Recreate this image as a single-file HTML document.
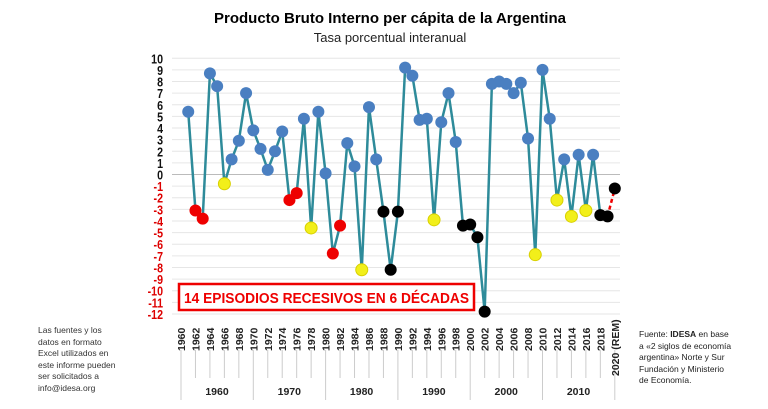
<!DOCTYPE html>
<html><head><meta charset="utf-8">
<style>
body{margin:0;background:#fff;width:768px;height:409px;overflow:hidden;font-family:"Liberation Sans",sans-serif;position:relative}
.t{position:absolute}
</style></head><body>
<div class="t" style="left:0;width:768px;top:10px;text-align:center;font-weight:bold;font-size:15px;color:#000;padding-left:12px;box-sizing:border-box">Producto Bruto Interno per cápita de la Argentina</div>
<div class="t" style="left:0;width:768px;top:30px;text-align:center;font-size:13px;color:#222;padding-left:12px;box-sizing:border-box">Tasa porcentual interanual</div>
<div class="t" style="left:38px;top:325px;font-size:8.5px;line-height:11.5px;color:#333">Las fuentes y los<br>datos en formato<br>Excel utilizados en<br>este informe pueden<br>ser solicitados a<br>info@idesa.org</div>
<div class="t" style="left:639px;top:329px;font-size:8.5px;line-height:11.5px;color:#222">Fuente: <b>IDESA</b> en base<br>a «2 siglos de economía<br>argentina» Norte y Sur<br>Fundación y Ministerio<br>de Economía.</div>
<svg id="c" width="768" height="409" style="position:absolute;left:0;top:0"></svg>
<script>
const years=[1961,1962,1963,1964,1965,1966,1967,1968,1969,1970,1971,1972,1973,1974,1975,1976,1977,1978,1979,1980,1981,1982,1983,1984,1985,1986,1987,1988,1989,1990,1991,1992,1993,1994,1995,1996,1997,1998,1999,2000,2001,2002,2003,2004,2005,2006,2007,2008,2009,2010,2011,2012,2013,2014,2015,2016,2017,2018,2019,2020];
const values=[5.4,-3.1,-3.8,8.7,7.6,-0.8,1.3,2.9,7.0,3.8,2.2,0.4,2.0,3.7,-2.2,-1.6,4.8,-4.6,5.4,0.1,-6.8,-4.4,2.7,0.7,-8.2,5.8,1.3,-3.2,-8.2,-3.2,9.2,8.5,4.7,4.8,-3.9,4.5,7.0,2.8,-4.4,-4.3,-5.4,-11.8,7.8,8.0,7.8,7.0,7.9,3.1,-6.9,9.0,4.8,-2.2,1.3,-3.6,1.7,-3.1,1.7,-3.5,-3.6,-1.2];
const redYears=[1962,1963,1975,1976,1981,1982];
const yellowYears=[1966,1978,1985,1995,2009,2012,2014,2016];
const blackYears=[1988,1989,1990,1999,2000,2001,2002,2018,2019,2020];
const yTicks=[10,9,8,7,6,5,4,3,2,1,0,-1,-2,-3,-4,-5,-6,-7,-8,-9,-10,-11,-12];
const decades=[1960,1970,1980,1990,2000,2010];
const NS='http://www.w3.org/2000/svg';
const svg=document.getElementById('c');
const X=y=>181+(y-1960)*7.23;
const Y=v=>174.5-v*11.62;
function mk(t,a,p){const e=document.createElementNS(NS,t);for(const k in a)e.setAttribute(k,a[k]);(p||svg).appendChild(e);return e;}
yTicks.forEach(v=>{
 const g=mk('line',{x1:172,x2:620,y1:Y(v),y2:Y(v),stroke:v===0?'#bbb':'#e6e6e6','stroke-width':1});
 
 
 const t=mk('text',{x:0,y:0,'text-anchor':'end','font-size':13,'font-weight':'bold',fill:v<0?'#d00':'#111',transform:`translate(163,${Y(v)+5}) scale(0.82,1)`});
 t.textContent=v;
 
 
});
for(let y=1960;y<=2020;y+=2){
 const x=X(y);
 const l=mk('line',{x1:x,x2:x,y1:350,y2:378,stroke:'#ccc'});
 
 
 const t=mk('text',{x:0,y:0,'font-size':10.5,'font-weight':'bold',fill:'#222',transform:`translate(${x+4},${y===2020?376:351}) rotate(-90)`});
 t.textContent=y===2020?'2020 (REM)':y;
 
 
}
decades.forEach(d=>{
 const x=X(d);
 const l=mk('line',{x1:x,x2:x,y1:378,y2:400,stroke:'#ccc'});
 
 
 const t=mk('text',{x:x+36,y:395,'text-anchor':'middle','font-size':10.5,'font-weight':'bold',fill:'#222'});
 t.textContent=d;
 
 
});
const le=mk('line',{x1:X(2020),x2:X(2020),y1:378,y2:400,stroke:'#ccc'});


let d='';
for(let i=0;i<years.length-1;i++)d+=(i?'L':'M')+X(years[i])+' '+Y(values[i]);
const path=mk('path',{d:d,fill:'none',stroke:'#2e8b9a','stroke-width':2.5});


const n=years.length;
const dash=mk('line',{x1:X(years[n-2]),y1:Y(values[n-2]),x2:X(years[n-1]),y2:Y(values[n-1]),stroke:'#e00','stroke-width':2.5,'stroke-dasharray':'4,3'});


years.forEach((y,i)=>{
 let f='#4a7fc1';
 if(redYears.includes(y))f='#e00';
 else if(yellowYears.includes(y))f='#f2ef1a';
 else if(blackYears.includes(y))f='#000';
 const c=mk('circle',{cx:X(y),cy:Y(values[i]),r:6,fill:f,stroke:f==='#f2ef1a'?'#d8d000':'none'});
 
 
});
const r=mk('rect',{x:179,y:284,width:295,height:26,fill:'#fff',stroke:'#e00','stroke-width':2.5});


const at=mk('text',{x:184,y:303,'font-size':14.5,'font-weight':'bold',fill:'#e00',textLength:285,lengthAdjust:'spacingAndGlyphs'});
at.textContent='14 EPISODIOS RECESIVOS EN 6 DÉCADAS';


</script>
</body></html>
